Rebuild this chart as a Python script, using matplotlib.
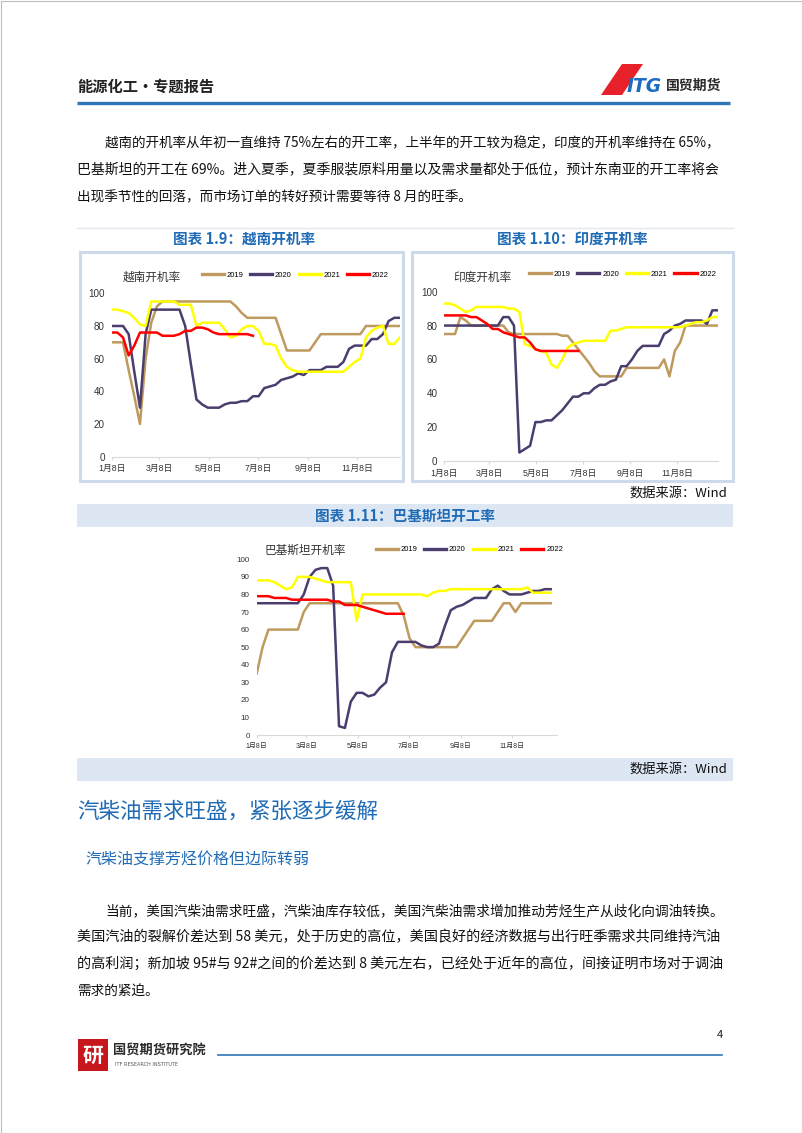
import numpy as np
import matplotlib
matplotlib.use('Agg')
import matplotlib.pyplot as plt
from matplotlib import font_manager
from matplotlib.patches import Rectangle, Polygon

installed = {f.name for f in font_manager.fontManager.ttflist}
NARROW = 'Liberation Sans Narrow' if 'Liberation Sans Narrow' in installed else 'Liberation Sans'
plt.rcParams['font.family'] = ['Noto Sans CJK SC', 'DejaVu Sans']
plt.rcParams['axes.unicode_minus'] = False

# ---- 数据 ----
years = ['2019', '2020', '2021', '2022']
colors = ['#BF9A5E', '#4B3D6E', '#FFFF00', '#FF0000']
tick_days = [8, 67, 128, 189, 251, 312]   # 日期（年内第几天）
tick_labels = ['1月8日', '3月8日', '5月8日', '7月8日', '9月8日', '11月8日']

# 越南开机率（周度）
vn_2019 = [70, 70, 70, 53, 37, 20, 60, 82, 92, 95, 95, 95, 95, 95, 95, 95, 95, 95, 95, 95,
           95, 95, 92, 88, 85, 85, 85, 85, 85, 85, 75, 65, 65, 65, 65, 65, 70, 75, 75, 75,
           75, 75, 75, 75, 75, 80, 80, 80, 80, 80, 80, 80]
vn_2020 = [80, 80, 80, 75, 52, 30, 75, 90, 90, 90, 90, 90, 90, 80, 57, 35, 32, 30, 30, 30,
           32, 33, 33, 34, 34, 37, 37, 42, 43, 44, 47, 48, 49, 51, 50, 53, 53, 53, 55, 55,
           55, 58, 66, 68, 68, 68, 72, 72, 75, 83, 85, 85]
vn_2021 = [90, 90, 89, 88, 85, 81, 80, 95, 95, 95, 95, 95, 93, 93, 93, 80, 82, 82, 82, 82,
           78, 73, 74, 78, 80, 80, 77, 69, 69, 68, 60, 55, 53, 52, 52, 52, 52, 52, 52, 52,
           52, 52, 55, 58, 60, 73, 77, 79, 80, 69, 69, 73]
vn_2022 = [76, 76, 73, 62, 68, 76, 76, 76, 76, 74, 74, 74, 75, 77, 77, 79, 79, 78, 76, 75,
           75, 75, 75, 75, 75, 74]

# 印度开机率
in_2019 = [75, 75, 75, 85, 83, 80, 80, 80, 80, 80, 80, 80, 76, 75, 75, 75, 75, 75, 75, 75,
           75, 75, 74, 74, 70, 66, 62, 58, 53, 50, 50, 50, 50, 50, 55, 55, 55, 55, 55, 55,
           55, 60, 50, 65, 70, 80, 80, 80, 80, 80, 80, 80]
in_2020 = [80, 80, 80, 80, 80, 80, 80, 80, 80, 80, 80, 85, 85, 80, 5, 7, 9, 23, 23, 24,
           24, 27, 30, 34, 38, 38, 40, 40, 43, 45, 45, 47, 48, 56, 56, 60, 65, 68, 68, 68,
           68, 75, 77, 80, 81, 83, 83, 83, 83, 81, 89, 89]
in_2021 = [93, 93, 92, 90, 88, 89, 91, 91, 91, 91, 91, 91, 90, 90, 88, 69, 68, 66, 65, 64,
           57, 55, 60, 67, 69, 70, 71, 71, 71, 71, 71, 77, 77, 78, 79, 79, 79, 79, 79, 79,
           79, 79, 79, 79, 79, 80, 81, 82, 82, 83, 85, 85]
in_2022 = [86, 86, 86, 86, 86, 85, 85, 83, 81, 78, 78, 76, 75, 74, 73, 73, 70, 66, 65, 65,
           65, 65, 65, 65, 65, 65]

# 巴基斯坦开机率
pk_2019 = [35, 50, 60, 60, 60, 60, 60, 60, 70, 75, 75, 75, 75, 75, 75, 75, 75, 75, 75, 75,
           75, 75, 75, 75, 75, 68, 55, 50, 50, 50, 50, 50, 50, 50, 50, 55, 60, 65, 65, 65,
           65, 70, 75, 75, 70, 75, 75, 75, 75, 75, 75]
pk_2020 = [75, 75, 75, 75, 75, 75, 75, 75, 80, 90, 94, 95, 95, 85, 5, 4, 19, 24, 24, 22,
           23, 27, 30, 47, 53, 53, 53, 53, 51, 50, 50, 52, 62, 71, 73, 74, 76, 78, 78, 78,
           83, 85, 82, 80, 80, 80, 81, 82, 82, 83, 83]
pk_2021 = [88, 88, 88, 87, 85, 83, 84, 90, 90, 90, 89, 88, 87, 87, 87, 87, 87, 65, 80, 80,
           80, 80, 80, 80, 80, 80, 80, 80, 80, 79, 81, 82, 82, 83, 83, 83, 83, 83, 83, 83,
           83, 83, 83, 83, 83, 83, 84, 81, 81, 81, 81]
pk_2022 = [79, 79, 79, 78, 78, 78, 77, 77, 77, 77, 77, 77, 77, 76, 76, 74, 74, 74, 73, 72,
           71, 70, 69, 69, 69, 69]

para1 = ['越南的开机率从年初一直维持 75%左右的开工率，上半年的开工较为稳定，印度的开机率维持在 65%，',
         '巴基斯坦的开工在 69%。进入夏季，夏季服装原料用量以及需求量都处于低位，预计东南亚的开工率将会',
         '出现季节性的回落，而市场订单的转好预计需要等待 8 月的旺季。']
para2 = ['当前，美国汽柴油需求旺盛，汽柴油库存较低，美国汽柴油需求增加推动芳烃生产从歧化向调油转换。',
         '美国汽油的裂解价差达到 58 美元，处于历史的高位，美国良好的经济数据与出行旺季需求共同维持汽油',
         '的高利润；新加坡 95#与 92#之间的价差达到 8 美元左右，已经处于近年的高位，间接证明市场对于调油',
         '需求的紧迫。']

W, H = 802, 1133
BLUE = '#2E75B6'
TBLUE = '#1F6BB5'
fig = plt.figure(figsize=(W / 100, H / 100), dpi=100)
bg = fig.add_axes([0, 0, 1, 1])
bg.set_xlim(0, W)
bg.set_ylim(H, 0)
bg.axis('off')
renderer = fig.canvas.get_renderer()


def txt(x, y, s, **kw):
    return bg.text(x, y, s, va='center', **kw)


def paragraph(lines, y0, step, size):
    # 两端对齐：除最后一行外，按行宽微调字号
    for i, line in enumerate(lines):
        x = 105 if i == 0 else 77
        t = txt(x, y0 + i * step, line, fontsize=size, color='#111111')
        if i < len(lines) - 1:
            w = t.get_window_extent(renderer).width
            t.set_fontsize(size * (722 - x) / w)


# 页面边框
bg.add_patch(Rectangle((0.5, 0.5), W - 1, H - 1, fill=False, ec='#BDBDBD', lw=0.8))

# 页眉
txt(77, 87, '能源化工·专题报告', fontsize=11, fontweight='bold', color='#222222')
bg.add_patch(Polygon([(601, 95), (622, 64), (643, 64), (622, 95)], closed=True, fc='#E8202A', ec='none'))
txt(627, 87, 'ITG', fontsize=13.5, fontweight='bold', fontstyle='italic', color='#1C6DC1',
    family=['DejaVu Sans'])
txt(666, 86, '国贸期货', fontsize=10, fontweight='bold', color='#2B2B2B')
bg.plot([77, 730], [103, 103], color=BLUE, lw=2.4, solid_capstyle='butt')

# 正文1
paragraph(para1, 143, 27, 9.8)

# 图表标题栏
bg.plot([77, 733], [228, 228], color='#E3E8EE', lw=1)
txt(244, 239, '图表 1.9：越南开机率', fontsize=10.5, fontweight='bold', color=TBLUE, ha='center')
txt(572, 239, '图表 1.10：印度开机率', fontsize=10.5, fontweight='bold', color=TBLUE, ha='center')
bg.add_patch(Rectangle((80, 252), 323, 229, fill=False, ec='#CCDAEA', lw=2.2))
bg.add_patch(Rectangle((412, 252), 321, 229, fill=False, ec='#CCDAEA', lw=2.2))
txt(727, 493, '数据来源：Wind', fontsize=9.5, color='#111111', ha='right')

bg.add_patch(Rectangle((77, 504), 656, 23, fc='#DDE7F3', ec='none'))
txt(405, 516, '图表 1.11：巴基斯坦开工率', fontsize=10.5, fontweight='bold', color=TBLUE, ha='center')
bg.add_patch(Rectangle((77, 758), 656, 23, fc='#DDE7F3', ec='none'))
txt(727, 769, '数据来源：Wind', fontsize=9.5, color='#111111', ha='right')


def draw_chart(box, series, yticks, tfs, title, title_xy, tsize, leg_anchor, lfs):
    x0, x1, ytop, ybot = box
    ax = fig.add_axes([x0 / W, 1 - ybot / H, (x1 - x0) / W, (ybot - ytop) / H])
    ax.set_facecolor('none')
    for vals, c in zip(series, colors):
        ax.plot(np.arange(len(vals)), vals, color=c, lw=1.8)
    ax.set_xlim(0, 51)
    ax.set_ylim(0, 100)
    ax.set_yticks(yticks)
    ax.set_yticklabels([str(v) for v in yticks], fontsize=tfs + 0.8, color='#333333',
                       fontfamily=[NARROW, 'DejaVu Sans'])
    ax.set_xticks([(d - 8) / 7 for d in tick_days])
    ax.set_xticklabels(tick_labels, fontsize=tfs, color='#333333',
                       fontfamily=[NARROW, 'Noto Sans CJK SC'])
    for s in ['top', 'right', 'left']:
        ax.spines[s].set_visible(False)
    ax.spines['bottom'].set_color('#D9D9D9')
    ax.spines['bottom'].set_linewidth(0.8)
    ax.tick_params(axis='y', length=0, pad=5)
    ax.tick_params(axis='x', length=2.5, color='#D9D9D9', pad=3)
    leg = ax.legend(years, ncol=4, loc='center right', bbox_to_anchor=leg_anchor, frameon=False,
                    handlelength=2.9, handletextpad=0.35, columnspacing=0.9, borderpad=0,
                    prop={'family': [NARROW], 'size': lfs})
    for ln in leg.get_lines():
        ln.set_linewidth(2.4)
    txt(title_xy[0], title_xy[1], title, fontsize=tsize, color='#333333', fontweight='medium')
    return ax


draw_chart((111.7, 399.9, 293.3, 456.7), [vn_2019, vn_2020, vn_2021, vn_2022],
           [0, 20, 40, 60, 80, 100], 6.3, '越南开机率', (123, 277), 8.4, (0.975, 1.11), 5.5)
draw_chart((444.3, 717.7, 291.7, 461), [in_2019, in_2020, in_2021, in_2022],
           [0, 20, 40, 60, 80, 100], 6.3, '印度开机率', (453, 277), 8.4, (1.008, 1.105), 5.5)
draw_chart((256.7, 556.6, 559.3, 735), [pk_2019, pk_2020, pk_2021, pk_2022],
           list(range(0, 101, 10)), 5.0, '巴基斯坦开机率', (265, 550), 8.4, (1.034, 1.055), 5.5)

# 标题
txt(77, 812, '汽柴油需求旺盛，紧张逐步缓解', fontsize=15.5, color=TBLUE)
txt(85, 860, '汽柴油支撑芳烃价格但边际转弱', fontsize=11.5, color=TBLUE)

# 正文2
paragraph(para2, 911, 26.5, 9.8)

# 页脚
txt(717, 1035, '4', fontsize=8, color='#222222')
bg.add_patch(Rectangle((78, 1039), 30, 32, fc='#C8161D', ec='none'))
txt(93, 1055, '研', fontsize=15, fontweight='bold', color='white', ha='center')
txt(113, 1051, '国贸期货研究院', fontsize=9.5, fontweight='bold', color='#2B2B2B')
txt(115, 1065, 'ITF RESEARCH INSTITUTE', fontsize=3.6, color='#555555', family=['DejaVu Sans'])
bg.plot([218, 722], [1055, 1055], color=BLUE, lw=1.2)

fig.savefig('out.png', dpi=100)
